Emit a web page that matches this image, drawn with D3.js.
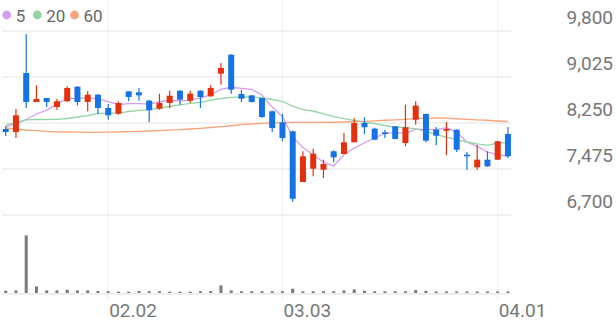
<!DOCTYPE html>
<html>
<head>
<meta charset="utf-8">
<script src="https://cdn.jsdelivr.net/npm/d3@7/dist/d3.min.js"></script>
<style>
  html, body { margin: 0; padding: 0; background: #fff; }
  svg { display: block; font-family: Roboto, "Noto Sans", sans-serif; }
</style>
</head>
<body>
<svg id="chart" width="616" height="321"></svg>
<script>
const dates = ["01.19","01.20","01.21","01.22","01.23","01.26","01.27","01.28","01.29","01.30",
  "02.02","02.03","02.04","02.05","02.06","02.09","02.10","02.11","02.12","02.13",
  "02.19","02.20","02.23","02.24","02.25","02.26","02.27",
  "03.03","03.04","03.05","03.06","03.09","03.10","03.11","03.12","03.13",
  "03.16","03.17","03.18","03.19","03.20","03.23","03.24","03.25","03.26","03.27",
  "03.30","03.31","04.01","04.02"];
const open  = [8149,8098,9092,8604,8671,8520,8616,8862,8604,8727,8503,8407,8784,8767,8626,8491,8587,8794,8626,8794,
  8700,9081,9401,8739,8716,8671,8447,8262,8110,7256,7480,7463,7773,7728,7925,8250,8154,8093,8194,7913,
  8306,8402,8137,8120,8137,7716,7503,7632,7632,8065];
const high  = [8200,8486,9750,8885,8671,8654,8870,8870,8784,8740,8570,8616,8784,8840,8640,8744,8794,8800,8794,8800,
  8885,9261,9410,8811,8720,8680,8460,8402,8120,7773,7817,7632,7790,8082,8334,8346,8170,8137,8200,8558,
  8615,8410,8183,8267,8140,7761,7885,7773,7950,8183];
const low   = [8031,7997,8503,8604,8520,8474,8604,8548,8447,8402,8306,8390,8616,8626,8267,8474,8503,8558,8587,8503,
  8690,8895,8744,8604,8595,8340,8098,7942,6919,7256,7352,7323,7588,7728,7925,8065,7960,7997,7975,7857,
  8221,7925,7874,7706,7761,7463,7463,7510,7625,7660];
const close = [8098,8380,8604,8654,8604,8616,8840,8604,8727,8503,8380,8587,8688,8716,8464,8587,8710,8643,8744,8688,
  8840,9177,8811,8659,8604,8351,8166,7997,6974,7689,7733,7559,7672,7925,8250,8178,7969,8065,7981,8178,
  8542,7952,8036,8149,7800,7689,7632,7520,7942,7689];
const volume = [92000,104000,2304000,264000,104000,104000,132000,104000,104000,80000,68000,52000,52000,80000,68000,68000,52000,52000,52000,68000,
  80000,304000,104000,68000,68000,68000,68000,68000,172000,68000,68000,68000,68000,104000,144000,92000,68000,68000,68000,68000,
  120000,92000,60000,60000,60000,60000,60000,60000,60000,60000];
const ma5  = [8191,8241,8309,8402,8468,8572,8664,8664,8678,8658,8611,8560,8577,8575,8567,8608,8633,8624,8630,8674,
  8725,8818,8852,8835,8818,8720,8518,8355,8018,7835,7712,7590,7525,7716,7828,7917,7999,8077,8089,8074,
  8147,8144,8138,8171,8096,7925,7861,7758,7717,7694];
const ma20 = [8220,8258,8301,8309,8309,8312,8326,8351,8376,8410,8418,8418,8444,8461,8477,8503,8528,8557,8579,8599,
  8637,8663,8683,8688,8688,8675,8646,8612,8536,8477,8452,8402,8359,8322,8292,8267,8238,8208,8178,8174,
  8152,8107,8056,8014,7969,7930,7900,7874,7913,7925];
const ma60 = [8166,8149,8132,8120,8110,8102,8098,8095,8093,8093,8095,8098,8103,8110,8115,8122,8129,8137,8149,8161,
  8174,8188,8204,8221,8233,8245,8253,8258,8260,8260,8260,8260,8263,8267,8272,8279,8287,8296,8304,8312,
  8322,8331,8334,8331,8322,8312,8304,8296,8284,8275];
const priceTicks = [6700, 7475, 8250, 9025, 9800];
const dateTicks = ["02.02", "03.03", "04.01"];
const legendLabels = ["5", "20", "60"];

const RED = "#e4300d", BLUE = "#1673e6";
const maColors = ["#d59cf0", "#92d6a4", "#f8a47c"];

const svg = d3.select("#chart");
const x = d3.scaleBand().domain(dates).range([0.575, 513.075]).padding(0);
const cx = d => x(d) + x.bandwidth() / 2;
const y = d3.scaleLinear().domain([6700, 9800]).range([215, 31]);
const yv = d3.scaleLinear().domain([0, 2400000]).range([293, 233]);
const PLOT_R = 511;

// grid
const grid = svg.append("g");
grid.selectAll("line.h").data(priceTicks).join("line")
  .attr("x1", 2).attr("x2", PLOT_R).attr("y1", d => y(d)).attr("y2", d => y(d))
  .attr("stroke", "#f1f1f1").attr("stroke-width", 2);
grid.selectAll("line.v").data(dateTicks).join("line")
  .attr("x1", d => cx(d)).attr("x2", d => cx(d)).attr("y1", 0).attr("y2", 300)
  .attr("stroke", "#f0f0f0").attr("stroke-width", 1);
grid.append("line").attr("x1", 2).attr("x2", PLOT_R).attr("y1", yv(0) + 1).attr("y2", yv(0) + 1)
  .attr("stroke", "#e8e8e8").attr("stroke-width", 1.5);

// y-axis labels
const fmt = d3.format(",");
svg.append("g").selectAll("text").data(priceTicks).join("text")
  .attr("x", 613).attr("y", d => y(d) - 7).attr("text-anchor", "end")
  .attr("font-size", 19).attr("fill", "#777").text(d => fmt(d));

// x-axis labels
svg.append("g").selectAll("text").data(dateTicks).join("text")
  .attr("x", d => cx(d) + 1).attr("y", 317).attr("text-anchor", "start")
  .attr("font-size", 19).attr("fill", "#777").text(d => d);

// moving averages
const idx = d3.range(dates.length);
[ma5, ma20, ma60].forEach((arr, k) => {
  const line = d3.line().x(i => cx(dates[i])).y(i => y(arr[i]));
  svg.append("path").attr("d", line(idx)).attr("fill", "none")
    .attr("stroke", maColors[k]).attr("stroke-width", 1.3);
});

// candles
const cg = svg.append("g");
idx.forEach(i => {
  const col = close[i] >= open[i] ? RED : BLUE;
  const xc = cx(dates[i]);
  cg.append("line").attr("x1", xc).attr("x2", xc)
    .attr("y1", y(high[i])).attr("y2", y(low[i]))
    .attr("stroke", col).attr("stroke-width", 1.2);
  const top = y(Math.max(open[i], close[i]));
  const bot = y(Math.min(open[i], close[i]));
  const h = Math.max(bot - top, 1.5);
  cg.append("rect").attr("x", xc - 3).attr("y", top).attr("width", 6).attr("height", h)
    .attr("fill", col);
});

// volume
svg.append("g").selectAll("rect").data(idx).join("rect")
  .attr("x", i => cx(dates[i]) - 1.5).attr("width", 3)
  .attr("y", i => yv(volume[i])).attr("height", i => yv(0) - yv(volume[i]))
  .attr("fill", "#7a7a7a");

// legend
const lx = [6.7, 37.3, 74.5];
const lg = svg.append("g");
legendLabels.forEach((t, k) => {
  lg.append("circle").attr("cx", lx[k]).attr("cy", 15).attr("r", 4.4).attr("fill", maColors[k]);
  lg.append("text").attr("x", lx[k] + 9).attr("y", 21.5).attr("font-size", 17)
    .attr("fill", "#666").text(t);
});
</script>
</body>
</html>
